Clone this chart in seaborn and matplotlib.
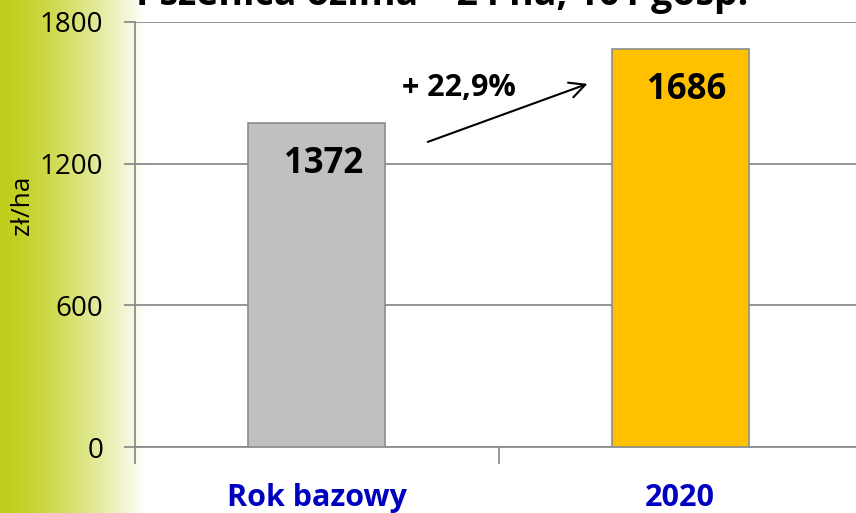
import numpy as np
import matplotlib
matplotlib.use('Agg')
import matplotlib.pyplot as plt
import seaborn as sns

# Data
categories = ['Rok bazowy', '2020']
values = [1372, 1686]
bar_colors = ['#C0C0C0', '#FFC000']
change_label = '+ 22,9%'
title = 'Pszenica ozima – 24 ha, 101 gosp.'
y_ticks = [0, 600, 1200, 1800]

sns.set_style('white')
plt.rcParams['font.family'] = ['Open Sans', 'DejaVu Sans']

fig = plt.figure(figsize=(8.56, 5.13), dpi=100)

# green gradient strip on the left
bg = fig.add_axes([0, 0, 1, 1], zorder=-5)
xs = np.linspace(0, 1, 856)
fade = np.clip(xs / (145 / 856), 0, 1) ** 1.4
left = np.array([0.75, 0.81, 0.10])
grad = left[None, :] * (1 - fade[:, None]) + fade[:, None]
bg.imshow(grad[None, :, :], aspect='auto', extent=[0, 1, 0, 1])
bg.set_axis_off()

ax = fig.add_axes([135 / 856, 66 / 513, 727 / 856, 425 / 513])
ax.patch.set_alpha(0)
sns.barplot(x=categories, y=values, hue=categories, palette=bar_colors, legend=False,
            saturation=1, width=0.377, edgecolor='#8c8c8c', linewidth=1.2, ax=ax, zorder=3)

ax.set_xlim(-0.5, 1.5)
ax.set_ylim(0, 1800)
ax.set_yticks(y_ticks)
ax.set_yticklabels([str(t) for t in y_ticks], fontsize=20, color='black')
ax.yaxis.grid(True, color='#8c8c8c', linewidth=1.3)
ax.set_axisbelow(True)
ax.tick_params(axis='y', length=8, width=1.3, color='#8c8c8c', pad=15, left=True)
ax.set_xticks([0, 1])
ax.set_xticklabels(categories, fontsize=22, fontweight='bold', color='#0000C0')
ax.tick_params(axis='x', which='major', length=0, pad=26)
ax.set_xticks([-0.5, 0.5, 1.5], minor=True)
ax.tick_params(axis='x', which='minor', length=12, width=1.3, color='#8c8c8c', bottom=True)
ax.set_xlabel('')
ax.set_ylabel('zł/ha', fontsize=19, color='black')
ax.yaxis.set_label_coords(-0.137, 0.569)
for s in ['top', 'right']:
    ax.spines[s].set_visible(False)
for s in ['left', 'bottom']:
    ax.spines[s].set_color('#8c8c8c')
    ax.spines[s].set_linewidth(1.3)

# value labels inside the bars
for i, v in enumerate(values):
    ax.text(i + 0.018, v - 172, str(v), ha='center', va='center',
            fontsize=25, fontweight='bold', color='black', zorder=5)

# growth annotation
ax.annotate('', xy=(0.752, 1542), xytext=(0.298, 1288),
            arrowprops=dict(arrowstyle='->', color='black', lw=1.5, mutation_scale=28))
ax.text(0.391, 1520, change_label, ha='center', va='center',
        fontsize=22, fontweight='bold', color='black')

fig.text(136 / 856, 1 - 5 / 513, title, ha='left', va='baseline',
         fontsize=27, fontweight='bold', color='black')

fig.savefig('out.png', dpi=100)
